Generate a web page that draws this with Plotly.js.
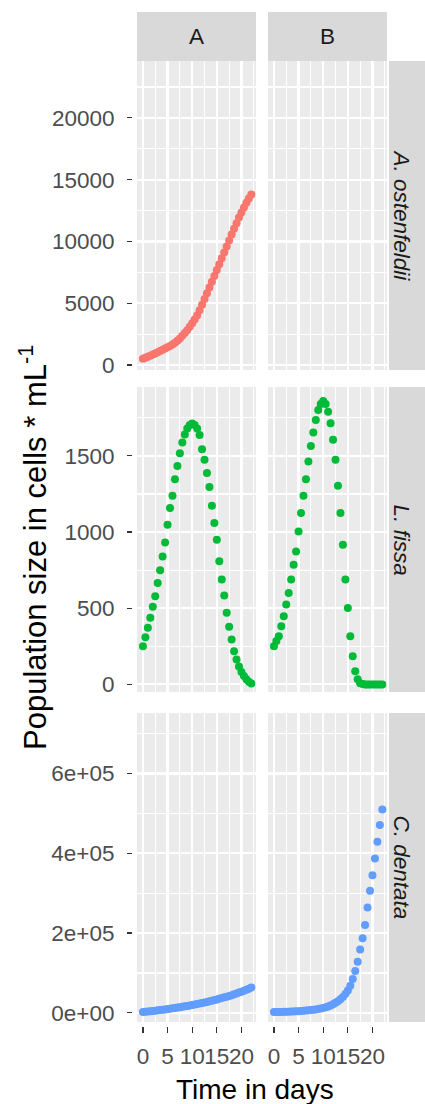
<!DOCTYPE html>
<html>
<head>
<meta charset="utf-8">
<script src="https://cdn.plot.ly/plotly-3.0.1.min.js"></script>
<style>
  html, body { margin: 0; padding: 0; background: #ffffff; }
  #chart { width: 425px; height: 1104px; }
</style>
</head>
<body>
<div id="chart"></div>
<script>
// Simulated population sizes (cells per mL), sampled every half day
const days = [0, 0.5, 1, 1.5, 2, 2.5, 3, 3.5, 4, 4.5, 5, 5.5, 6, 6.5, 7, 7.5, 8, 8.5, 9, 9.5,
  10, 10.5, 11, 11.5, 12, 12.5, 13, 13.5, 14, 14.5, 15, 15.5, 16, 16.5, 17, 17.5, 18, 18.5,
  19, 19.5, 20, 20.5, 21, 21.5, 22];

const treatments = ['A', 'B'];
const species = ['A. ostenfeldii', 'L. fissa', 'C. dentata'];
const speciesColors = ['#F8766D', '#00BA38', '#619CFF'];

const ostenfeldiiA = [500, 580, 660, 750, 840, 930, 1030, 1130, 1230, 1330, 1430, 1540, 1660, 1810,
  1970, 2150, 2360, 2580, 2820, 3090, 3380, 3680, 4000, 4430, 4880, 5340, 5800, 6270, 6740, 7210,
  7680, 8150, 8630, 9110, 9590, 10070, 10550, 11020, 11480, 11930, 12350, 12750, 13130, 13480, 13800];
const ostenfeldiiB = [];

const fissaA = [250, 310, 372, 437, 509, 578, 666, 749, 840, 932, 1048, 1157, 1238, 1347, 1434, 1517,
  1587, 1640, 1680, 1702, 1712, 1702, 1680, 1637, 1544, 1474, 1387, 1295, 1172, 1059, 950, 808, 688,
  583, 470, 378, 295, 218, 164, 118, 82, 55, 33, 17, 6];
const fissaB = [250, 285, 316, 382, 447, 524, 600, 688, 786, 873, 1004, 1125, 1238, 1347, 1463, 1565,
  1653, 1736, 1801, 1840, 1860, 1840, 1790, 1714, 1605, 1474, 1303, 1125, 917, 688, 502, 316, 185,
  87, 33, 8, 2, 0, 0, 0, 0, 0, 0, 0, 0];

const dentataA = [2000, 2650, 3300, 4000, 4700, 5450, 6200, 7000, 7800, 8650, 9500, 10400, 11300,
  12250, 13200, 14200, 15200, 16250, 17300, 18450, 19600, 20800, 22000, 23300, 24600, 26000, 27400,
  28900, 30400, 32000, 33600, 35300, 37000, 38800, 40600, 42500, 44400, 46400, 48500, 50700, 53000,
  55500, 58000, 60700, 63500];
const dentataB = [1900, 2000, 2100, 2300, 2500, 2700, 2900, 3200, 3500, 3800, 4200, 4600, 5100, 5600,
  6200, 6900, 7700, 8600, 9600, 10800, 12200, 14000, 16000, 18500, 21500, 25000, 29000, 34000, 40000,
  47000, 56000, 68000, 85000, 105000, 128000, 159000, 187000, 220000, 264000, 306000, 345000, 387000,
  429000, 471000, 510000];

// Tick positions and labels
const dayTicks = [0, 5, 10, 15, 20];
const dayTickText = ['0', '5', '10', '15', '20'];
const ostenfeldiiTicks = [0, 5000, 10000, 15000, 20000];
const ostenfeldiiTickText = ['0', '5000', '10000', '15000', '20000'];
const fissaTicks = [0, 500, 1000, 1500];
const fissaTickText = ['0', '500', '1000', '1500'];
const dentataTicks = [0, 200000, 400000, 600000];
const dentataTickText = ['0e+00', '2e+05', '4e+05', '6e+05'];

// ---- page geometry (pixels) ----
const W = 425, H = 1104;
const px = v => v / W;
const py = v => 1 - v / H;
const colPx = [[137, 256], [268, 387]];
const rowPx = [[61, 370], [387, 692], [713, 1022]];
const dayRange = [-1.2, 22.95];
const rowRanges = [[-405, 24600], [-50, 1952], [-23000, 752000]];
const rowMinorStep = [2500, 250, 100000];
const rowTickVals = [ostenfeldiiTicks, fissaTicks, dentataTicks];
const rowTickText = [ostenfeldiiTickText, fissaTickText, dentataTickText];
const seriesByRow = [[ostenfeldiiA, ostenfeldiiB], [fissaA, fissaB], [dentataA, dentataB]];

const FONT = 'Liberation Sans, Arial, Helvetica, sans-serif';
const tickFont = { family: FONT, size: 22.5, color: '#4D4D4D' };
const gridStyle = { showgrid: true, gridcolor: '#FFFFFF', gridwidth: 2.2 };

const data = [];
const layout = {
  width: W, height: H,
  margin: { l: 0, r: 0, t: 0, b: 0, pad: 0 },
  paper_bgcolor: '#FFFFFF',
  plot_bgcolor: '#EBEBEB',
  font: { family: FONT, color: '#000000' },
  showlegend: false,
  shapes: [],
  annotations: []
};

for (let r = 0; r < 3; r++) {
  for (let c = 0; c < 2; c++) {
    const k = r * 2 + c + 1;
    const s = k === 1 ? '' : String(k);

    data.push({
      type: 'scatter', mode: 'markers', name: species[r] + ' ' + treatments[c],
      x: days, y: seriesByRow[r][c],
      xaxis: 'x' + s, yaxis: 'y' + s,
      marker: { size: 8, color: speciesColors[r], line: { width: 0 } },
      hoverinfo: 'skip', showlegend: false
    });

    const bottomRow = r === 2;
    const xa = Object.assign({
      domain: [px(colPx[c][0]), px(colPx[c][1])],
      range: dayRange,
      tickmode: 'array', tickvals: dayTicks, ticktext: dayTickText,
      ticks: bottomRow ? 'outside' : '', ticklen: 6, tickwidth: 1.2, tickcolor: '#333333',
      showticklabels: bottomRow, tickangle: 0, tickfont: tickFont, ticklabelstandoff: 4,
      minor: { tickmode: 'linear', tick0: 0, dtick: 2.5, showgrid: true, gridcolor: '#FFFFFF', gridwidth: 1.1, ticks: '' },
      zeroline: false, showline: false, fixedrange: true
    }, gridStyle);
    if (bottomRow) { xa.anchor = 'free'; xa.position = py(1026); } else { xa.anchor = 'y' + s; }
    layout['xaxis' + s] = xa;

    const leftCol = c === 0;
    const ya = Object.assign({
      domain: [py(rowPx[r][1]), py(rowPx[r][0])],
      range: rowRanges[r],
      tickmode: 'array', tickvals: rowTickVals[r], ticktext: rowTickText[r],
      ticks: leftCol ? 'outside' : '', ticklen: 5, tickwidth: 1.2, tickcolor: '#333333',
      showticklabels: leftCol, tickfont: tickFont, ticklabelstandoff: 8,
      minor: { tickmode: 'linear', tick0: 0, dtick: rowMinorStep[r], showgrid: true, gridcolor: '#FFFFFF', gridwidth: 1.1, ticks: '' },
      zeroline: false, showline: false, fixedrange: true
    }, gridStyle);
    if (leftCol) { ya.anchor = 'free'; ya.position = px(132); } else { ya.anchor = 'x' + s; }
    layout['yaxis' + s] = ya;
  }
}

// Facet strips: treatments on top, species down the right side
const stripFill = '#D9D9D9';
colPx.forEach((cp, c) => {
  layout.shapes.push({ type: 'rect', xref: 'paper', yref: 'paper', layer: 'below',
    x0: px(cp[0]), x1: px(cp[1]), y0: py(61), y1: py(12), fillcolor: stripFill, line: { width: 0 } });
  layout.annotations.push({ xref: 'paper', yref: 'paper', x: px((cp[0] + cp[1]) / 2), y: py(36.5),
    text: treatments[c], showarrow: false, xanchor: 'center', yanchor: 'middle',
    font: { family: FONT, size: 22.5, color: '#1A1A1A' } });
});
rowPx.forEach((rp, r) => {
  layout.shapes.push({ type: 'rect', xref: 'paper', yref: 'paper', layer: 'below',
    x0: px(389), x1: px(425), y0: py(rp[1]), y1: py(rp[0]), fillcolor: stripFill, line: { width: 0 } });
  layout.annotations.push({ xref: 'paper', yref: 'paper', x: px(401), y: py((rp[0] + rp[1]) / 2),
    text: '<i>' + species[r] + '</i>', textangle: 90, showarrow: false, xanchor: 'center', yanchor: 'middle',
    font: { family: FONT, size: 22.5, color: '#1A1A1A' } });
});

// Axis titles
layout.annotations.push({ xref: 'paper', yref: 'paper', x: px(33), y: py(548),
  text: 'Population size in cells * mL<sup>-1</sup>', textangle: -90, showarrow: false,
  xanchor: 'center', yanchor: 'middle', font: { family: FONT, size: 31, color: '#000000' } });
layout.annotations.push({ xref: 'paper', yref: 'paper', x: px(255), y: py(1089),
  text: 'Time in days', showarrow: false, xanchor: 'center', yanchor: 'middle',
  font: { family: FONT, size: 28, color: '#000000' } });

Plotly.newPlot('chart', data, layout, { displayModeBar: false, staticPlot: true });
</script>
</body>
</html>
